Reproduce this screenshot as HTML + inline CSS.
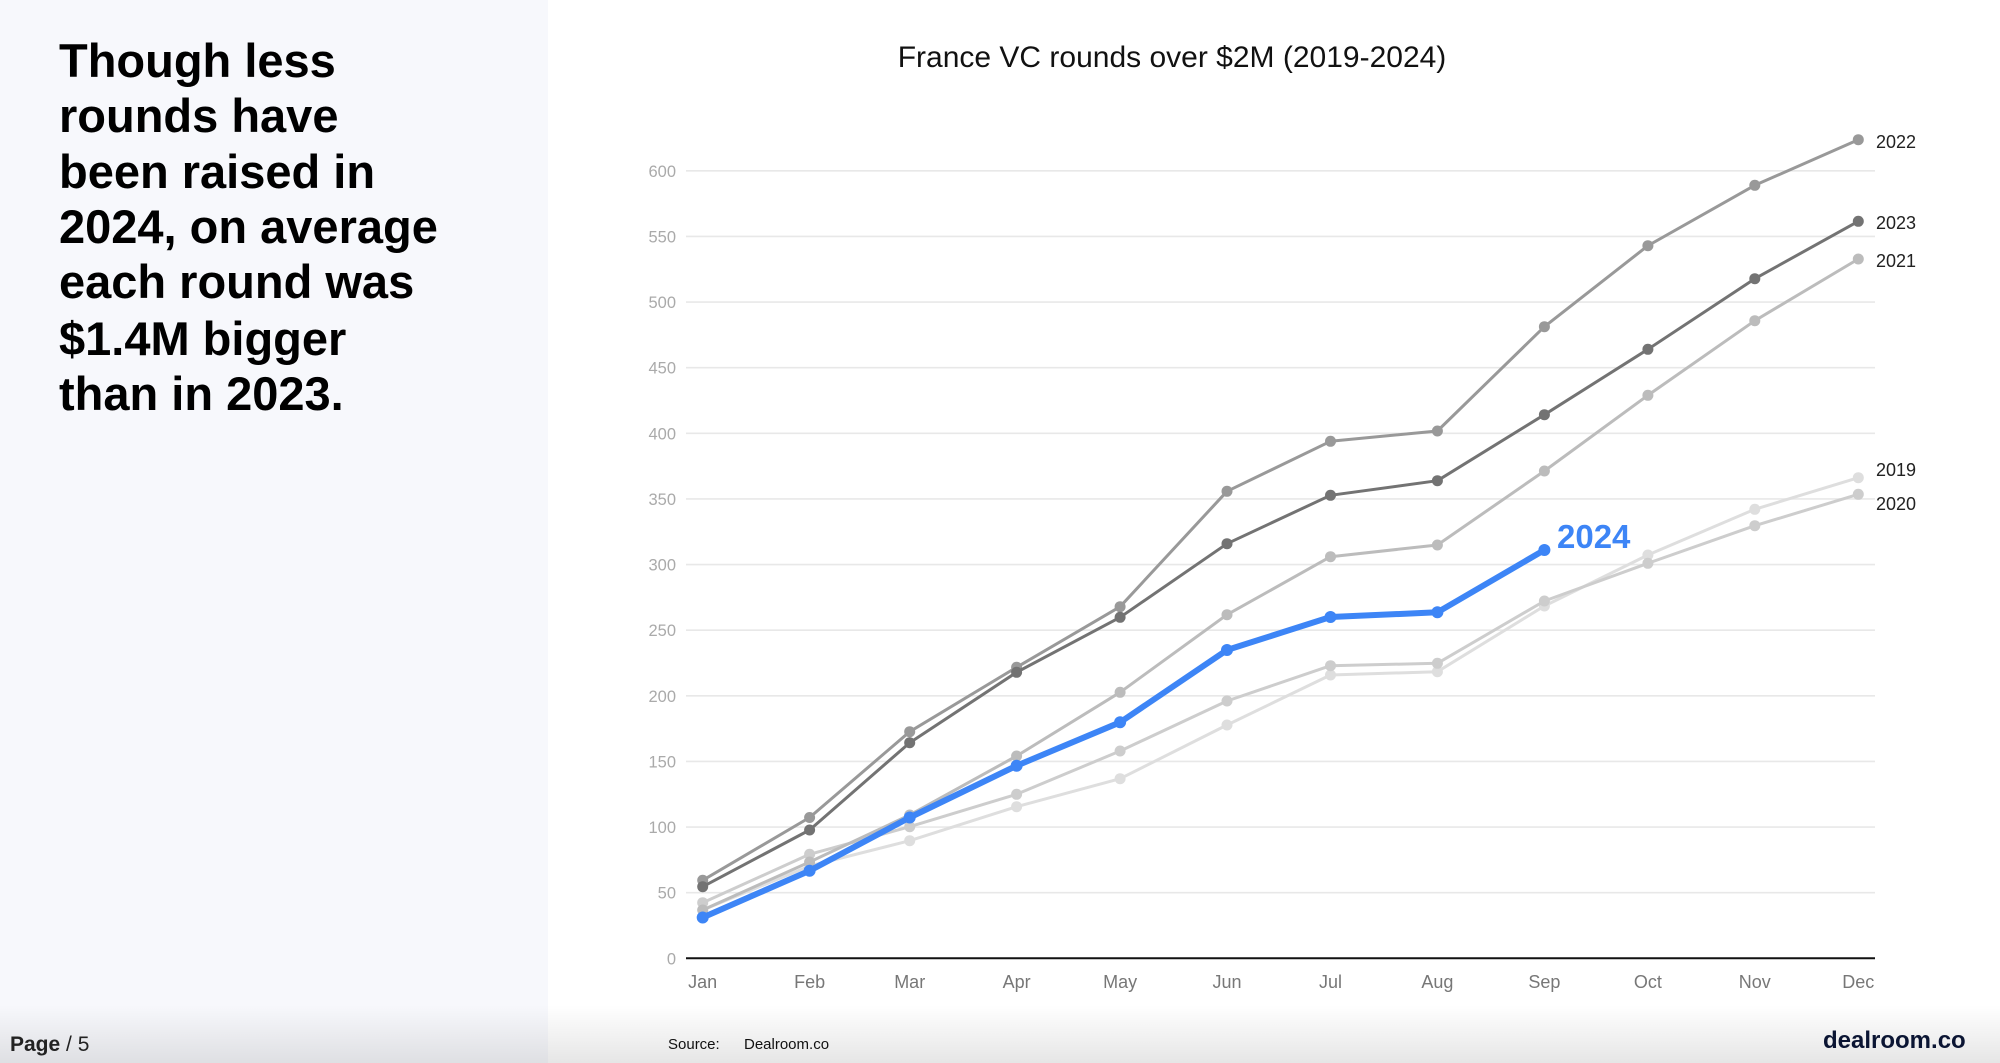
<!DOCTYPE html>
<html>
<head>
<meta charset="utf-8">
<style>
html,body{margin:0;padding:0;background:#fff;}
svg{display:block;}
</style>
</head>
<body>
<svg width="2000" height="1063" viewBox="0 0 2000 1063" xmlns="http://www.w3.org/2000/svg" font-family="Liberation Sans, sans-serif">
  <defs>
    <linearGradient id="bot" x1="0" y1="0" x2="0" y2="1">
      <stop offset="0" stop-color="#000" stop-opacity="0"/>
      <stop offset="1" stop-color="#000" stop-opacity="0.10"/>
    </linearGradient>
  </defs>
  <rect x="0" y="0" width="2000" height="1063" fill="#ffffff"/>
  <rect x="0" y="0" width="548" height="1063" fill="#f7f8fc"/>
  <rect x="0" y="1005" width="2000" height="58" fill="url(#bot)"/>

  <!-- left paragraph -->
  <g font-weight="700" font-size="47" fill="#000">
    <text x="59" y="77">Though less</text>
    <text x="59" y="132">rounds have</text>
    <text x="59" y="188">been raised in</text>
    <text x="59" y="243">2024, on average</text>
    <text x="59" y="298">each round was</text>
    <text x="59" y="355">$1.4M bigger</text>
    <text x="59" y="410">than in 2023.</text>
  </g>

  <!-- title -->
  <text x="1172" y="67" font-size="30" fill="#111" text-anchor="middle">France VC rounds over $2M (2019-2024)</text>

  <!-- gridlines -->
  <g stroke="#e8e8e8" stroke-width="1.6">
    <line x1="686" x2="1875" y1="892.7" y2="892.7"/>
    <line x1="686" x2="1875" y1="827.1" y2="827.1"/>
    <line x1="686" x2="1875" y1="761.4" y2="761.4"/>
    <line x1="686" x2="1875" y1="695.8" y2="695.8"/>
    <line x1="686" x2="1875" y1="630.2" y2="630.2"/>
    <line x1="686" x2="1875" y1="564.6" y2="564.6"/>
    <line x1="686" x2="1875" y1="498.9" y2="498.9"/>
    <line x1="686" x2="1875" y1="433.3" y2="433.3"/>
    <line x1="686" x2="1875" y1="367.7" y2="367.7"/>
    <line x1="686" x2="1875" y1="302.1" y2="302.1"/>
    <line x1="686" x2="1875" y1="236.4" y2="236.4"/>
    <line x1="686" x2="1875" y1="170.8" y2="170.8"/>
  </g>
  <line x1="686" x2="1875" y1="958.3" y2="958.3" stroke="#111" stroke-width="2"/>

  <!-- y tick labels -->
  <g font-size="16.5" fill="#aaaaaa" text-anchor="end">
    <text x="676" y="964.3">0</text>
    <text x="676" y="898.7">50</text>
    <text x="676" y="833.1">100</text>
    <text x="676" y="767.4">150</text>
    <text x="676" y="701.8">200</text>
    <text x="676" y="636.2">250</text>
    <text x="676" y="570.6">300</text>
    <text x="676" y="504.9">350</text>
    <text x="676" y="439.3">400</text>
    <text x="676" y="373.7">450</text>
    <text x="676" y="308.1">500</text>
    <text x="676" y="242.4">550</text>
    <text x="676" y="176.8">600</text>
  </g>

  <!-- x labels -->
  <g font-size="18" fill="#777" text-anchor="middle">
    <text x="702.7" y="988">Jan</text>
    <text x="809.6" y="988">Feb</text>
    <text x="909.7" y="988">Mar</text>
    <text x="1016.6" y="988">Apr</text>
    <text x="1120.1" y="988">May</text>
    <text x="1227" y="988">Jun</text>
    <text x="1330.5" y="988">Jul</text>
    <text x="1437.4" y="988">Aug</text>
    <text x="1544.4" y="988">Sep</text>
    <text x="1647.9" y="988">Oct</text>
    <text x="1754.8" y="988">Nov</text>
    <text x="1858.3" y="988">Dec</text>
  </g>

  <!-- 2019 -->
  <g stroke="#dedede" fill="#dedede">
    <polyline fill="none" stroke-width="3" stroke-linejoin="round" points="702.7,910 809.6,866 909.7,840.7 1016.6,806.7 1120.1,778.7 1227,725 1330.5,675 1437.4,671.7 1544.4,606 1647.9,555 1754.8,509.3 1858.3,477.7"/>
    <g stroke="none">
      <circle cx="702.7" cy="910" r="5.5"/><circle cx="809.6" cy="866" r="5.5"/><circle cx="909.7" cy="840.7" r="5.5"/><circle cx="1016.6" cy="806.7" r="5.5"/><circle cx="1120.1" cy="778.7" r="5.5"/><circle cx="1227" cy="725" r="5.5"/><circle cx="1330.5" cy="675" r="5.5"/><circle cx="1437.4" cy="671.7" r="5.5"/><circle cx="1544.4" cy="606" r="5.5"/><circle cx="1647.9" cy="555" r="5.5"/><circle cx="1754.8" cy="509.3" r="5.5"/><circle cx="1858.3" cy="477.7" r="5.5"/>
    </g>
  </g>
  <!-- 2020 -->
  <g stroke="#cdcdcd" fill="#cdcdcd">
    <polyline fill="none" stroke-width="3" stroke-linejoin="round" points="702.7,902.7 809.6,854.3 909.7,826.7 1016.6,794.3 1120.1,751 1227,701 1330.5,665.7 1437.4,663.3 1544.4,601 1647.9,563.3 1754.8,525.7 1858.3,494.3"/>
    <g stroke="none">
      <circle cx="702.7" cy="902.7" r="5.5"/><circle cx="809.6" cy="854.3" r="5.5"/><circle cx="909.7" cy="826.7" r="5.5"/><circle cx="1016.6" cy="794.3" r="5.5"/><circle cx="1120.1" cy="751" r="5.5"/><circle cx="1227" cy="701" r="5.5"/><circle cx="1330.5" cy="665.7" r="5.5"/><circle cx="1437.4" cy="663.3" r="5.5"/><circle cx="1544.4" cy="601" r="5.5"/><circle cx="1647.9" cy="563.3" r="5.5"/><circle cx="1754.8" cy="525.7" r="5.5"/><circle cx="1858.3" cy="494.3" r="5.5"/>
    </g>
  </g>
  <!-- 2021 -->
  <g stroke="#bcbcbc" fill="#bcbcbc">
    <polyline fill="none" stroke-width="3" stroke-linejoin="round" points="702.7,910 809.6,862 909.7,815 1016.6,756 1120.1,692.3 1227,614.7 1330.5,556.7 1437.4,545 1544.4,471 1647.9,395.3 1754.8,320.7 1858.3,259"/>
    <g stroke="none">
      <circle cx="702.7" cy="910" r="5.5"/><circle cx="809.6" cy="862" r="5.5"/><circle cx="909.7" cy="815" r="5.5"/><circle cx="1016.6" cy="756" r="5.5"/><circle cx="1120.1" cy="692.3" r="5.5"/><circle cx="1227" cy="614.7" r="5.5"/><circle cx="1330.5" cy="556.7" r="5.5"/><circle cx="1437.4" cy="545" r="5.5"/><circle cx="1544.4" cy="471" r="5.5"/><circle cx="1647.9" cy="395.3" r="5.5"/><circle cx="1754.8" cy="320.7" r="5.5"/><circle cx="1858.3" cy="259" r="5.5"/>
    </g>
  </g>
  <!-- 2022 -->
  <g stroke="#999999" fill="#999999">
    <polyline fill="none" stroke-width="3" stroke-linejoin="round" points="702.7,880.3 809.6,817.5 909.7,731.7 1016.6,667.3 1120.1,606.7 1227,491.3 1330.5,441.3 1437.4,431 1544.4,326.7 1647.9,245.7 1754.8,185.3 1858.3,139.7"/>
    <g stroke="none">
      <circle cx="702.7" cy="880.3" r="5.5"/><circle cx="809.6" cy="817.5" r="5.5"/><circle cx="909.7" cy="731.7" r="5.5"/><circle cx="1016.6" cy="667.3" r="5.5"/><circle cx="1120.1" cy="606.7" r="5.5"/><circle cx="1227" cy="491.3" r="5.5"/><circle cx="1330.5" cy="441.3" r="5.5"/><circle cx="1437.4" cy="431" r="5.5"/><circle cx="1544.4" cy="326.7" r="5.5"/><circle cx="1647.9" cy="245.7" r="5.5"/><circle cx="1754.8" cy="185.3" r="5.5"/><circle cx="1858.3" cy="139.7" r="5.5"/>
    </g>
  </g>
  <!-- 2023 -->
  <g stroke="#737373" fill="#737373">
    <polyline fill="none" stroke-width="3" stroke-linejoin="round" points="702.7,886.7 809.6,830 909.7,742.7 1016.6,672.3 1120.1,617.3 1227,543.7 1330.5,495.3 1437.4,480.7 1544.4,414.7 1647.9,349.3 1754.8,278.7 1858.3,221.3"/>
    <g stroke="none">
      <circle cx="702.7" cy="886.7" r="5.5"/><circle cx="809.6" cy="830" r="5.5"/><circle cx="909.7" cy="742.7" r="5.5"/><circle cx="1016.6" cy="672.3" r="5.5"/><circle cx="1120.1" cy="617.3" r="5.5"/><circle cx="1227" cy="543.7" r="5.5"/><circle cx="1330.5" cy="495.3" r="5.5"/><circle cx="1437.4" cy="480.7" r="5.5"/><circle cx="1544.4" cy="414.7" r="5.5"/><circle cx="1647.9" cy="349.3" r="5.5"/><circle cx="1754.8" cy="278.7" r="5.5"/><circle cx="1858.3" cy="221.3" r="5.5"/>
    </g>
  </g>
  <!-- 2024 -->
  <g stroke="#3d85f6" fill="#3d85f6">
    <polyline fill="none" stroke-width="6" stroke-linejoin="round" points="702.7,917.5 809.6,870.7 909.7,817.5 1016.6,765.7 1120.1,722.3 1227,650 1330.5,617 1437.4,612.3 1544.4,550"/>
    <g stroke="none">
      <circle cx="702.7" cy="917.5" r="6"/><circle cx="809.6" cy="870.7" r="6"/><circle cx="909.7" cy="817.5" r="6"/><circle cx="1016.6" cy="765.7" r="6"/><circle cx="1120.1" cy="722.3" r="6"/><circle cx="1227" cy="650" r="6"/><circle cx="1330.5" cy="617" r="6"/><circle cx="1437.4" cy="612.3" r="6"/><circle cx="1544.4" cy="550" r="6"/>
    </g>
  </g>

  <!-- series labels -->
  <g font-size="18" fill="#222">
    <text x="1876" y="148">2022</text>
    <text x="1876" y="229">2023</text>
    <text x="1876" y="267">2021</text>
    <text x="1876" y="476">2019</text>
    <text x="1876" y="510">2020</text>
  </g>
  <text x="1557" y="548" font-size="33" font-weight="700" fill="#3d85f6">2024</text>

  <!-- footer -->
  <text x="10" y="1051" font-size="21" fill="#222"><tspan font-weight="700">Page</tspan> / 5</text>
  <text x="668" y="1049" font-size="15" fill="#111">Source:</text>
  <text x="744" y="1049" font-size="15" fill="#111">Dealroom.co</text>
  <text x="1823" y="1048" font-size="24" font-weight="700" fill="#0b1533">dealroom.co</text>
</svg>
</body>
</html>
